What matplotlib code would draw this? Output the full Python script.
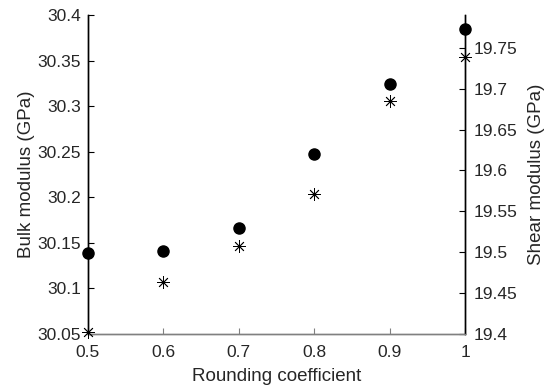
import matplotlib
matplotlib.use("Agg")
import matplotlib.pyplot as plt

rounding = [0.5, 0.6, 0.7, 0.8, 0.9, 1.0]
bulk_modulus = [30.1385, 30.141, 30.166, 30.248, 30.324, 30.385]
shear_modulus = [19.402, 19.463, 19.507, 19.571, 19.685, 19.739]

x_ticks = [0.5, 0.6, 0.7, 0.8, 0.9, 1.0]
x_ticklabels = ["0.5", "0.6", "0.7", "0.8", "0.9", "1"]
left_ticks = [30.05, 30.1, 30.15, 30.2, 30.25, 30.3, 30.35, 30.4]
left_ticklabels = ["30.05", "30.1", "30.15", "30.2", "30.25", "30.3", "30.35", "30.4"]
right_ticks = [19.4, 19.45, 19.5, 19.55, 19.6, 19.65, 19.7, 19.75]
right_ticklabels = ["19.4", "19.45", "19.5", "19.55", "19.6", "19.65", "19.7", "19.75"]

plt.rcParams['font.family'] = ['Liberation Sans', 'DejaVu Sans']
txt = '#262626'

fig = plt.figure(figsize=(5.51, 3.87), dpi=100)
ax = fig.add_axes([88/551, 1-334/387, (465-88)/551, (334-15)/387])
ax2 = ax.twinx()

ax.plot(rounding, bulk_modulus, linestyle='none', marker='o', markersize=8,
        color='black', clip_on=False, zorder=5)
ax2.plot(rounding, shear_modulus, linestyle='none', marker=(8, 2, 0), markersize=9,
         markeredgewidth=0.6, color='black', clip_on=False, zorder=5)

ax.set_xlim(0.5, 1.0)
ax.set_ylim(30.05, 30.4)
ax2.set_ylim(19.4, 19.79)

ax.set_xticks(x_ticks)
ax.set_xticklabels(x_ticklabels)
ax.set_yticks(left_ticks)
ax.set_yticklabels(left_ticklabels)
ax2.set_yticks(right_ticks)
ax2.set_yticklabels(right_ticklabels)

for a in (ax, ax2):
    a.spines['top'].set_visible(False)
    a.spines['bottom'].set_color('#808080')
    a.spines['left'].set_color('black')
    a.spines['right'].set_color('black')
    for s in a.spines.values():
        s.set_linewidth(1.0)

ax.tick_params(axis='x', direction='in', length=4, width=0.8, color='#808080',
               labelsize=12.5, labelcolor=txt, pad=8)
ax.tick_params(axis='y', direction='in', length=4, width=0.8, color='black',
               labelsize=12.5, labelcolor=txt, pad=5)
ax2.tick_params(axis='y', direction='in', length=4, width=0.8, color='black',
                labelsize=12.5, labelcolor=txt, pad=6)

ax.set_xlabel('Rounding coefficient', fontsize=13.5, color=txt, labelpad=6)
ax.set_ylabel('Bulk modulus (GPa)', fontsize=13.5, color=txt, labelpad=2)
ax2.set_ylabel('Shear modulus (GPa)', fontsize=13.5, color=txt, labelpad=8)

fig.savefig('out.png', dpi=100)
